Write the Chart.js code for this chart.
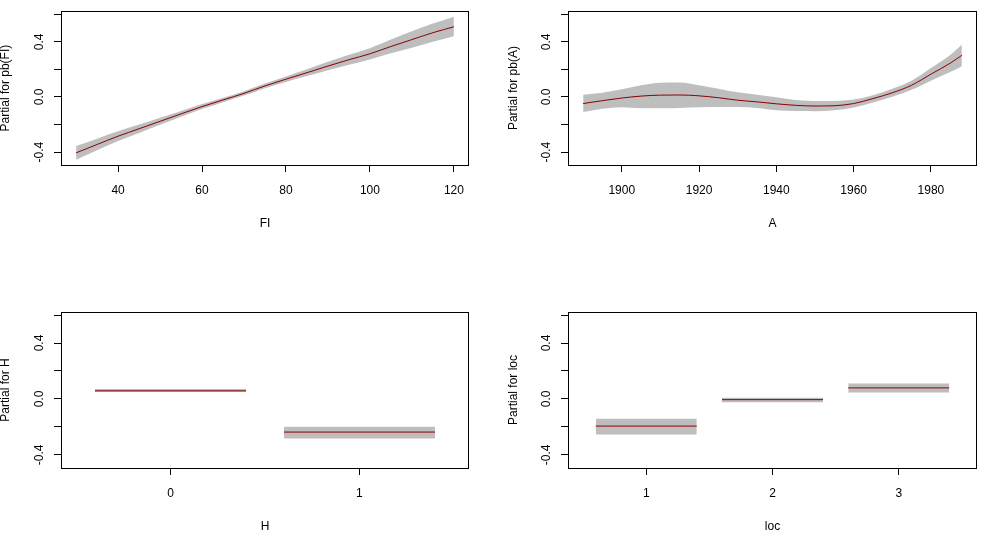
<!DOCTYPE html>
<html><head><meta charset="utf-8">
<script src="https://cdn.jsdelivr.net/npm/chart.js@4.4.0/dist/chart.umd.min.js"></script>
<style>
html,body{margin:0;padding:0;background:#fff;width:988px;height:535px;overflow:hidden;}
canvas{position:absolute;}
</style></head><body>
<canvas id="c1" width="494" height="267" style="left:0px;top:0px"></canvas>
<canvas id="c2" width="494" height="267" style="left:494px;top:0px"></canvas>
<canvas id="c3" width="494" height="268" style="left:0px;top:267px"></canvas>
<canvas id="c4" width="494" height="268" style="left:494px;top:267px"></canvas>
<script>
// ---- Panel 1: pb(FI) ----
const fiX     = [30,35,40,45,50,55,60,65,70,75,80,85,90,95,100,105,110,115,120];
const fiFit   = [-0.406,-0.345,-0.285,-0.231,-0.177,-0.123,-0.070,-0.022,0.026,0.080,0.129,0.176,0.224,0.270,0.313,0.366,0.416,0.466,0.509];
const fiUpper = [-0.356,-0.303,-0.250,-0.201,-0.152,-0.102,-0.052,-0.006,0.042,0.097,0.149,0.201,0.255,0.306,0.354,0.416,0.476,0.532,0.582];
const fiLower = [-0.456,-0.387,-0.320,-0.261,-0.202,-0.144,-0.088,-0.038,0.010,0.063,0.109,0.151,0.193,0.234,0.272,0.316,0.356,0.400,0.440];
const fiTicks = [40,60,80,100,120];

// ---- Panel 2: pb(A) ----
const aX     = [1890,1895,1900,1905,1910,1915,1920,1925,1930,1935,1940,1945,1950,1955,1960,1965,1970,1975,1980,1985,1988];
const aFit   = [-0.048,-0.027,-0.008,0.006,0.013,0.014,0.008,-0.006,-0.024,-0.036,-0.050,-0.061,-0.066,-0.064,-0.048,-0.012,0.030,0.085,0.165,0.245,0.302];
const aUpper = [0.016,0.030,0.055,0.085,0.103,0.105,0.085,0.060,0.033,0.015,-0.003,-0.022,-0.030,-0.030,-0.019,0.012,0.060,0.118,0.210,0.305,0.378];
const aLower = [-0.110,-0.085,-0.075,-0.082,-0.082,-0.080,-0.075,-0.073,-0.073,-0.080,-0.097,-0.103,-0.104,-0.097,-0.076,-0.040,0.002,0.052,0.118,0.180,0.222];
const aTicks = [1900,1920,1940,1960,1980];

// ---- Panel 3: H (factor) ----
const hLevels = ['0','1'];
const hFit    = [0.058,-0.237];
const hUpper  = [0.072,-0.199];
const hLower  = [0.050,-0.283];

// ---- Panel 4: loc (factor) ----
const locLevels = ['1','2','3'];
const locFit    = [-0.194,-0.005,0.079];
const locUpper  = [-0.142,0.009,0.110];
const locLower  = [-0.254,-0.024,0.047];

// y axis ticks (all panels)
const yTicks   = [-0.4,-0.2,0.0,0.2,0.4,0.6];
const yLabeled = [-0.4,0.0,0.4];

const FONT = "'Liberation Sans', Arial, Helvetica, sans-serif";
const LINE_COL = '#8B0000';
const BAND_COL = '#BEBEBE';

const boxPlugin = {
  id: 'box',
  afterDraw(chart) {
    const {ctx, chartArea: a} = chart;
    ctx.save();
    ctx.strokeStyle = '#000';
    ctx.lineWidth = 1;
    ctx.strokeRect(Math.round(a.left) + 0.5, Math.round(a.top) + 0.5,
                   Math.round(a.right - a.left) - 1, Math.round(a.bottom - a.top));
    ctx.restore();
  }
};

function contDatasets(xs, fit, up, lo) {
  return [
    {data: xs.map((x,i)=>({x, y: fit[i]})), borderColor: LINE_COL, borderWidth: 1, pointRadius: 0, fill: false, cubicInterpolationMode: 'monotone'},
    {data: xs.map((x,i)=>({x, y: up[i]})), borderWidth: 0, borderColor: 'rgba(0,0,0,0)', backgroundColor: BAND_COL, pointRadius: 0, fill: '+1', cubicInterpolationMode: 'monotone'},
    {data: xs.map((x,i)=>({x, y: lo[i]})), borderWidth: 0, borderColor: 'rgba(0,0,0,0)', pointRadius: 0, fill: false, cubicInterpolationMode: 'monotone'}
  ];
}

function factorDatasets(levels, fit, up, lo) {
  const line = [];
  levels.forEach((l,i)=>{
    const p = i + 1;
    line.push({x: p - 0.4, y: fit[i]}, {x: p + 0.4, y: fit[i]}, {x: p + 0.5, y: null});
  });
  const ds = [{data: line, borderColor: LINE_COL, borderWidth: 1, pointRadius: 0, fill: false, spanGaps: false}];
  levels.forEach((l,i)=>{
    const p = i + 1;
    ds.push({data: [{x: p-0.4, y: up[i]}, {x: p+0.4, y: up[i]}], borderWidth: 0, borderColor: 'rgba(0,0,0,0)', backgroundColor: BAND_COL, pointRadius: 0, fill: '+1'});
    ds.push({data: [{x: p-0.4, y: lo[i]}, {x: p+0.4, y: lo[i]}], borderWidth: 0, borderColor: 'rgba(0,0,0,0)', pointRadius: 0, fill: false});
  });
  return ds;
}

function makeChart(id, p) {
  const canvas = document.getElementById(id);
  const W = canvas.width, H = canvas.height;
  const xAxisH = 65;
  new Chart(canvas, {
    type: 'line',
    data: {datasets: p.datasets},
    plugins: [boxPlugin],
    options: {
      responsive: false, animation: false, devicePixelRatio: 1,
      layout: {padding: {left: 0, top: p.top, right: W - p.right, bottom: H - (p.bottom + xAxisH)}},
      plugins: {legend: {display: false}, tooltip: {enabled: false}},
      elements: {line: {tension: 0}},
      scales: {
        x: {
          type: 'linear', min: p.xmin, max: p.xmax,
          afterBuildTicks: s => { s.ticks = p.xticks.map(v => ({value: v})); },
          afterFit: s => { s.height = xAxisH; },
          grid: {display: true, drawOnChartArea: false, drawTicks: true, tickLength: 7, color: '#000', lineWidth: 1},
          border: {display: false},
          ticks: {autoSkip: false, maxRotation: 0, minRotation: 0, padding: 11, color: '#000',
                  font: {family: FONT, size: 12}, callback: p.xlabel},
          title: {display: true, text: p.xtitle, color: '#000', font: {family: FONT, size: 12, lineHeight: 1}, padding: {top: 0, bottom: 0}}
        },
        y: {
          type: 'linear', min: -0.494, max: 0.622,
          afterBuildTicks: s => { s.ticks = yTicks.map(v => ({value: v})); },
          afterFit: s => { s.width = p.left; },
          grid: {display: true, drawOnChartArea: false, drawTicks: true, tickLength: 7, color: '#000', lineWidth: 1},
          border: {display: false},
          ticks: {autoSkip: false, minRotation: 90, maxRotation: 90, crossAlign: 'center', padding: 4, color: '#000',
                  font: {family: FONT, size: 12},
                  callback: v => yLabeled.some(t => Math.abs(t - v) < 1e-9) ? Number(v).toFixed(1) : ''},
          title: {display: true, text: p.ytitle, color: '#000', font: {family: FONT, size: 12, lineHeight: 1}, padding: {top: p.ytitlePad, bottom: 0}}
        }
      }
    }
  });
}

makeChart('c1', {left: 61, top: 10, right: 469, bottom: 165, xmin: 26.4, xmax: 123.6, xticks: fiTicks,
  xlabel: v => String(v), xtitle: 'FI', ytitle: 'Partial for pb(FI)', ytitlePad: 0,
  datasets: contDatasets(fiX, fiFit, fiUpper, fiLower)});
makeChart('c2', {left: 74, top: 10, right: 483, bottom: 165, xmin: 1886.08, xmax: 1991.92, xticks: aTicks,
  xlabel: v => String(v), xtitle: 'A', ytitle: 'Partial for pb(A)', ytitlePad: 14,
  datasets: contDatasets(aX, aFit, aUpper, aLower)});
makeChart('c3', {left: 61, top: 45, right: 469, bottom: 201, xmin: 0.42, xmax: 2.58, xticks: hLevels.map((l,i)=>i+1),
  xlabel: v => hLevels[Math.round(v) - 1], xtitle: 'H', ytitle: 'Partial for H', ytitlePad: 0,
  datasets: factorDatasets(hLevels, hFit, hUpper, hLower)});
makeChart('c4', {left: 74, top: 45, right: 483, bottom: 201, xmin: 0.38, xmax: 3.62, xticks: locLevels.map((l,i)=>i+1),
  xlabel: v => locLevels[Math.round(v) - 1], xtitle: 'loc', ytitle: 'Partial for loc', ytitlePad: 14,
  datasets: factorDatasets(locLevels, locFit, locUpper, locLower)});
</script>
</body></html>
